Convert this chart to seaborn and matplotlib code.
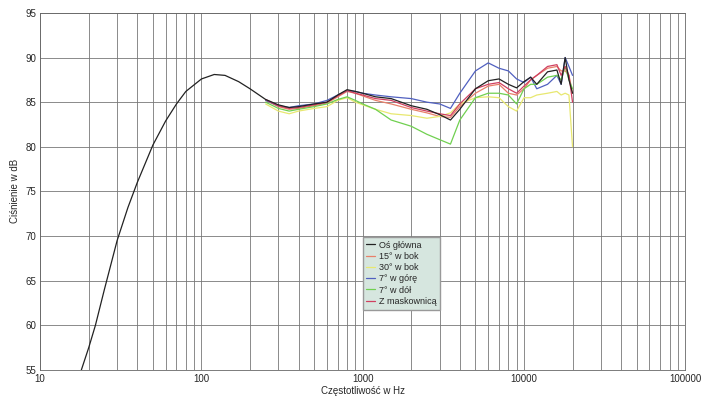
import numpy as np
import matplotlib
matplotlib.use("Agg")
import matplotlib.pyplot as plt
import seaborn as sns
from matplotlib.ticker import LogLocator, NullFormatter, FixedLocator

# on-axis response, low end included
freq_main = [18, 20, 22, 25, 30, 35, 40, 50, 60, 70, 80, 100, 120, 140, 170, 200]
spl_main_low = [55, 57.5, 60, 64, 69.5, 73.2, 76, 80.2, 82.9, 84.8, 86.2, 87.6, 88.1, 88.0, 87.3, 86.5]

freq = [250, 300, 350, 400, 500, 600, 700, 800, 900, 1000, 1200, 1500, 2000, 2500,
        3000, 3500, 4000, 5000, 6000, 7000, 8000, 9000, 10000, 11000, 12000, 14000,
        16000, 17000, 18000, 19000, 20000]
black = [85.3, 84.7, 84.4, 84.5, 84.8, 85.0, 85.8, 86.4, 86.2, 86.0, 85.6, 85.4, 84.6, 84.2,
         83.6, 83.0, 84.2, 86.5, 87.4, 87.6, 87.0, 86.6, 87.3, 87.8, 87.0, 88.4, 88.6, 87.0, 90.0, 87.5, 86.0]
red15 = [85.2, 84.5, 84.2, 84.3, 84.6, 84.9, 85.6, 86.2, 86.0, 85.7, 85.2, 84.8, 84.2, 83.8,
         83.4, 83.3, 84.5, 86.0, 86.8, 87.0, 86.0, 85.8, 86.5, 87.5, 88.0, 88.8, 89.0, 88.5, 88.5, 88.0, 86.0]
yellow30 = [84.8, 84.0, 83.7, 84.0, 84.3, 84.5, 85.2, 85.5, 85.0, 84.7, 84.2, 83.7, 83.5, 83.2,
            83.4, 83.8, 84.8, 85.5, 85.6, 85.5, 84.5, 84.0, 85.5, 85.5, 85.8, 86.0, 86.2, 85.8, 86.0, 85.8, 80.0]
blue_up = [85.2, 84.6, 84.4, 84.6, 84.8, 85.2, 85.8, 86.3, 86.2, 86.0, 85.8, 85.6, 85.4, 85.0,
           84.8, 84.3, 86.0, 88.5, 89.4, 88.8, 88.5, 87.6, 87.2, 87.8, 86.5, 87.0, 88.0, 87.0, 90.0, 89.0, 88.0]
green_down = [85.0, 84.3, 84.0, 84.2, 84.5, 84.8, 85.3, 85.6, 85.2, 84.8, 84.2, 83.0, 82.3, 81.4,
              80.8, 80.3, 83.0, 85.5, 86.0, 86.0, 85.8, 84.8, 86.5, 87.0, 87.0, 87.8, 88.0, 87.5, 89.0, 87.5, 86.5]
grille = [85.3, 84.6, 84.3, 84.4, 84.7, 85.0, 85.7, 86.3, 86.0, 85.8, 85.4, 85.2, 84.4, 84.0,
          83.7, 83.5, 84.8, 86.5, 87.0, 87.2, 86.5, 86.0, 86.8, 87.5, 88.0, 89.0, 89.2, 88.0, 89.0, 88.0, 85.0]

labels = ["Oś główna", "15° w bok", "30° w bok", "7° w górę", "7° w dół", "Z maskownicą"]
colors = ["#222222", "#e8806a", "#e8e870", "#5060c0", "#70d050", "#d04060"]

sns.set_style("white")
plt.rcParams['font.family'] = ['Liberation Sans', 'DejaVu Sans']

fig = plt.figure(figsize=(7.05, 4.03), dpi=100)
ax = fig.add_axes([0.057, 0.082, 0.915, 0.886])

series = [red15, yellow30, blue_up, green_down, grille]
for s, c, lab in zip(series, colors[1:], labels[1:]):
    sns.lineplot(x=freq, y=s, color=c, lw=0.9, ax=ax, label=lab, sort=False)
sns.lineplot(x=freq_main + freq, y=spl_main_low + black, color=colors[0], lw=0.9, ax=ax,
             label=labels[0], sort=False)

ax.set_xscale("log")
ax.set_xlim(10, 100000)
ax.set_ylim(55, 95)
ax.xaxis.set_major_locator(FixedLocator([10, 100, 1000, 10000, 100000]))
ax.set_xticklabels(["10", "100", "1000", "10000", "100000"])
ax.xaxis.set_minor_locator(LogLocator(base=10, subs=np.arange(2, 10)))
ax.xaxis.set_minor_formatter(NullFormatter())
ax.set_yticks(range(55, 96, 5))
ax.grid(True, which="both", axis="x", color="#777777", lw=0.6)
ax.grid(True, which="major", axis="y", color="#777777", lw=0.6)
for sp in ax.spines.values():
    sp.set_color("#666666")
    sp.set_linewidth(0.6)
ax.tick_params(labelsize=7, length=0, pad=3)
ax.set_xlabel("Częstotliwość w Hz", fontsize=7, labelpad=1)
ax.set_ylabel("Ciśnienie w dB", fontsize=7, labelpad=4)

h, l = ax.get_legend_handles_labels()
order = [5, 0, 1, 2, 3, 4]
leg = ax.legend([h[i] for i in order], [l[i] for i in order], loc="upper left",
                bbox_to_anchor=(0.493, 0.385), fontsize=6.5, frameon=True, fancybox=False,
                handlelength=1.0, labelspacing=0.25, borderpad=0.4, handletextpad=0.4)
leg.get_frame().set_facecolor("#d6e6df")
leg.get_frame().set_edgecolor("#999999")
leg.get_frame().set_alpha(1)

fig.savefig("out.png", dpi=100)
